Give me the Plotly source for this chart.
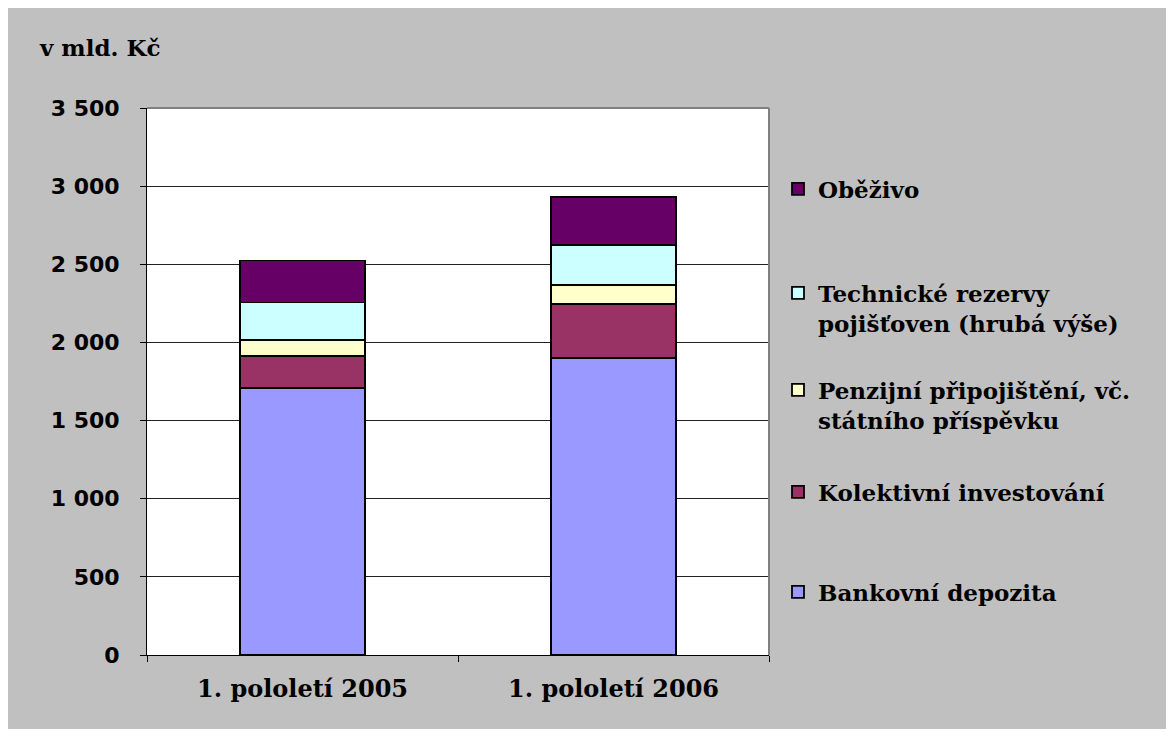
import plotly.graph_objects as go

categories = ["1. pololetí 2005", "1. pololetí 2006"]
series_names = [
    "Bankovní depozita",
    "Kolektivní investování",
    "Penzijní připojištění, vč.<br>státního příspěvku",
    "Technické rezervy<br>pojišťoven (hrubá výše)",
    "Oběživo",
]
bankovni = [1707, 1899]
kolektivni = [205, 345]
penzijni = [102, 124]
technicke = [241, 254]
obezivo = [269, 307]
series_values = [bankovni, kolektivni, penzijni, technicke, obezivo]
colors = ["#9999FF", "#993366", "#FFFFCC", "#CCFFFF", "#660066"]

tick_vals = [0, 500, 1000, 1500, 2000, 2500, 3000, 3500]
tick_text = ["0", "500", "1 000", "1 500", "2 000", "2 500", "3 000", "3 500"]

# page has an 8px body margin; coordinates below are relative to the figure
OFF = 8
W, H = 1174, 729
L, R, T, B = 147 - OFF, 769 - OFF, 108 - OFF, 655 - OFF
pw, ph = R - L, B - T

def px_x(x):
    return (x - OFF - L) / pw

def px_y(y):
    return 1 - (y - OFF - T) / ph

legend_names = ["legend5", "legend4", "legend3", "legend2", "legend"]
legend_centers = [592, 492, 405, 308, 189]

fig = go.Figure()
for name, vals, col, lg in zip(series_names, series_values, colors, legend_names):
    fig.add_trace(go.Bar(
        x=categories, y=vals, name=name, legend=lg,
        marker=dict(color=col, line=dict(color="black", width=1.8)),
        width=0.4,
    ))

serif = "DejaVu Serif"
layout_legends = {}
for lg, cy in zip(legend_names, legend_centers):
    layout_legends[lg] = dict(
        x=px_x(778), y=px_y(cy), xanchor="left", yanchor="middle",
        bgcolor="rgba(0,0,0,0)", borderwidth=0, valign="top",
        font=dict(family=serif, size=23, color="black", weight="bold"),
    )

fig.update_layout(
    width=W, height=H,
    margin=dict(l=L, r=W - R, t=T, b=H - B, pad=0),
    paper_bgcolor="#C0C0C0",
    plot_bgcolor="white",
    barmode="stack",
    showlegend=True,
    **layout_legends,
    xaxis=dict(
        type="category", tickson="boundaries", ticks="outside", ticklen=6,
        tickcolor="black", showline=True, linecolor="black", linewidth=1,
        showgrid=False, ticklabelstandoff=12,
        tickfont=dict(family=serif, size=24, color="black", weight="bold"),
    ),
    yaxis=dict(
        range=[0, 3500], tickvals=tick_vals, ticktext=tick_text,
        ticks="outside", ticklen=6, tickcolor="black",
        showline=True, linecolor="black", linewidth=1,
        showgrid=True, gridcolor="#222222", gridwidth=1, zeroline=False,
        ticklabelstandoff=16,
        tickfont=dict(family="DejaVu Sans", size=22, color="black", weight="bold"),
    ),
    annotations=[dict(
        text="v mld. Kč", xref="paper", yref="paper",
        x=px_x(37), y=px_y(47), xanchor="left", yanchor="middle",
        showarrow=False,
        font=dict(family=serif, size=23, color="black", weight="bold"),
    )],
    shapes=[
        dict(type="line", xref="paper", yref="paper", x0=0, x1=1, y0=1, y1=1,
             line=dict(color="#808080", width=2)),
        dict(type="line", xref="paper", yref="paper", x0=1, x1=1, y0=0, y1=1,
             line=dict(color="#808080", width=2)),
    ],
)

fig.write_html("out.html")
